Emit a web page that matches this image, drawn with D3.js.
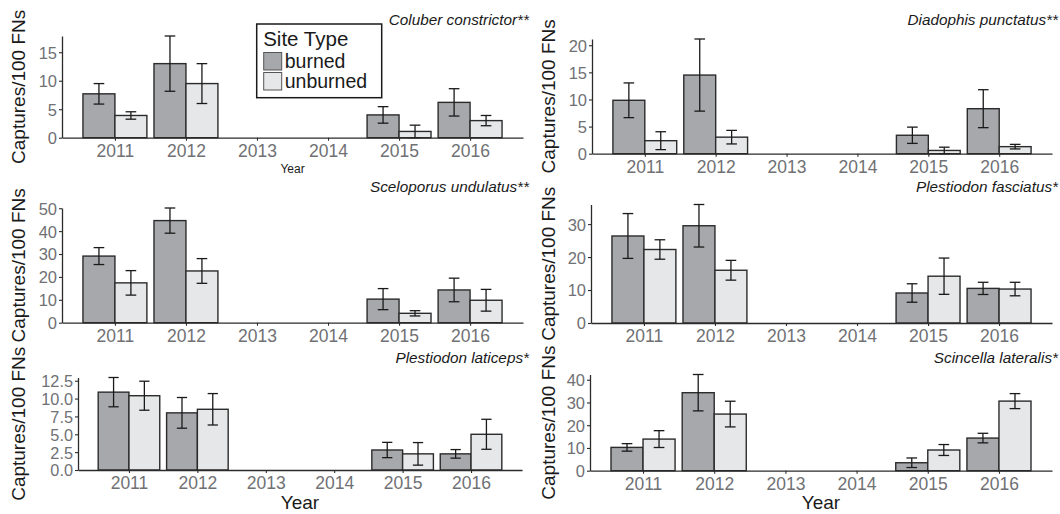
<!DOCTYPE html>
<html>
<head>
<meta charset="utf-8">
<script src="https://cdn.jsdelivr.net/npm/d3@7"></script>
<style>
  body { margin: 0; background: #fff; }
  svg text { font-family: "Liberation Sans", Arial, Helvetica, sans-serif; }
</style>
</head>
<body>
<svg id="chart" width="1060" height="514"></svg>
<script>
// data ======================================================
var axisYears = [2011, 2012, 2013, 2014, 2015, 2016];
var dataYears = [2011, 2012, 2015, 2016];
var siteTypes = ["burned", "unburned"];
var species   = ["Coluber constrictor**", "Diadophis punctatus**", "Sceloporus undulatus**",
                 "Plestiodon fasciatus*", "Plestiodon laticeps*", "Scincella lateralis*"];

// mean and standard error, per year in dataYears
var coluberBurned     = [7.7, 13.0, 4.0, 6.2];
var coluberBurnedSE   = [1.8, 4.85, 1.45, 2.4];
var coluberUnburned   = [3.9, 9.5, 1.1, 3.0];
var coluberUnburnedSE = [0.65, 3.5, 1.1, 0.9];

var diadophisBurned     = [9.85, 14.5, 3.4, 8.3];
var diadophisBurnedSE   = [3.2, 6.65, 1.5, 3.5];
var diadophisUnburned   = [2.4, 3.05, 0.6, 1.3];
var diadophisUnburnedSE = [1.65, 1.25, 0.6, 0.42];

var sceloporusBurned     = [29.1, 44.6, 10.3, 14.3];
var sceloporusBurnedSE   = [3.7, 5.5, 4.6, 5.15];
var sceloporusUnburned   = [17.4, 22.6, 4.1, 9.8];
var sceloporusUnburnedSE = [5.35, 5.4, 1.15, 4.75];

var fasciatusBurned     = [26.4, 29.5, 9.1, 10.5];
var fasciatusBurnedSE   = [6.8, 6.45, 2.8, 1.85];
var fasciatusUnburned   = [22.3, 16.0, 14.2, 10.3];
var fasciatusUnburnedSE = [2.95, 3.0, 5.5, 2.05];

var laticepsBurned     = [10.9, 8.0, 2.8, 2.26];
var laticepsBurnedSE   = [2.05, 2.15, 1.07, 0.6];
var laticepsUnburned   = [10.4, 8.5, 2.26, 5.0];
var laticepsUnburnedSE = [2.03, 2.2, 1.58, 2.1];

var scincellaBurned     = [10.25, 34.3, 3.5, 14.35];
var scincellaBurnedSE   = [1.65, 8.0, 2.1, 2.1];
var scincellaUnburned   = [13.9, 24.9, 9.1, 30.6];
var scincellaUnburnedSE = [3.7, 5.65, 2.4, 3.3];

// y tick labels per panel
var ticksColuber    = [0, 5, 10, 15];
var ticksDiadophis  = [0, 5, 10, 15, 20];
var ticksSceloporus = [0, 10, 20, 30, 40, 50];
var ticksFasciatus  = [0, 10, 20, 30];
var ticksLaticeps   = [0, 2.5, 5, 7.5, 10, 12.5];
var ticksScincella  = [0, 10, 20, 30, 40];

var series = [
  [coluberBurned, coluberBurnedSE, coluberUnburned, coluberUnburnedSE, ticksColuber, d3.format("d")],
  [diadophisBurned, diadophisBurnedSE, diadophisUnburned, diadophisUnburnedSE, ticksDiadophis, d3.format("d")],
  [sceloporusBurned, sceloporusBurnedSE, sceloporusUnburned, sceloporusUnburnedSE, ticksSceloporus, d3.format("d")],
  [fasciatusBurned, fasciatusBurnedSE, fasciatusUnburned, fasciatusUnburnedSE, ticksFasciatus, d3.format("d")],
  [laticepsBurned, laticepsBurnedSE, laticepsUnburned, laticepsUnburnedSE, ticksLaticeps, d3.format(".1f")],
  [scincellaBurned, scincellaBurnedSE, scincellaUnburned, scincellaUnburnedSE, ticksScincella, d3.format("d")]
];

// layout ====================================================
// plot rectangles: left, right, top, bottom ; title pos ; x-title type
var panels = [
  {l: 62, r: 523,  t: 36,  b: 137.7, titleX: 529,  titleY: 25,  ytx: 25,  xTitle: "small"},
  {l: 592, r: 1052, t: 39, b: 153.7, titleX: 1058, titleY: 25,  ytx: 555, xTitle: ""},
  {l: 62, r: 523,  t: 208, b: 322.7, titleX: 529,  titleY: 192, ytx: 25,  xTitle: ""},
  {l: 591, r: 1052, t: 204.5, b: 323, titleX: 1058, titleY: 192, ytx: 555, xTitle: ""},
  {l: 78, r: 522,  t: 377.5, b: 470, titleX: 529,  titleY: 363, ytx: 25,  xTitle: "big"},
  {l: 590, r: 1052, t: 374.5, b: 470.7, titleX: 1058, titleY: 363, ytx: 555, xTitle: "big"}
];

var fillColor  = {burned: "#a7a8ab", unburned: "#e6e7e8"};
var strokeCol  = "#2b2b2b";
var tickCol    = "#707174";
var dodge      = 0.9;   // dodge width in year units
var capHalf    = 0.075; // half width of error bar caps

var svg = d3.select("#chart");

panels.forEach(function(p, i) {
  var s = series[i];
  var g = svg.append("g");

  // x: continuous years with ggplot-like 5% expansion
  var xmin = d3.min(axisYears) - dodge/2, xmax = d3.max(axisYears) + dodge/2;
  var pad  = (xmax - xmin) * 0.05;
  var xScale = d3.scaleLinear().domain([xmin - pad, xmax + pad]).range([p.l, p.r]);

  var bars = [];
  dataYears.forEach(function(yr, j) {
    bars.push({year: yr, type: "burned",   mean: s[0][j], se: s[1][j]});
    bars.push({year: yr, type: "unburned", mean: s[2][j], se: s[3][j]});
  });
  var ymax = d3.max(bars, function(d) { return d.mean + d.se; });
  var yScale = d3.scaleLinear().domain([0, ymax]).range([p.b, p.t]);

  function barX(d) { return d.type == "burned" ? d.year - dodge/2 : d.year; }

  // bars
  g.selectAll("rect.bar").data(bars).enter().append("rect")
    .attr("x", function(d) { return xScale(barX(d)); })
    .attr("y", function(d) { return yScale(d.mean); })
    .attr("width", function(d) { return xScale(barX(d) + dodge/2) - xScale(barX(d)); })
    .attr("height", function(d) { return yScale(0) - yScale(d.mean); })
    .style("fill", function(d) { return fillColor[d.type]; })
    .style("stroke", strokeCol).style("stroke-width", 1.4);

  // error bars
  var eb = g.selectAll("g.err").data(bars).enter().append("g")
    .style("stroke", "#1a1a1a").style("stroke-width", 1.3).style("fill", "none");
  function cx(d) { return barX(d) + dodge/4; }
  eb.append("line")
    .attr("x1", function(d) { return xScale(cx(d)); }).attr("x2", function(d) { return xScale(cx(d)); })
    .attr("y1", function(d) { return yScale(Math.max(0, d.mean - d.se)); })
    .attr("y2", function(d) { return yScale(d.mean + d.se); });
  eb.append("line")
    .attr("x1", function(d) { return xScale(cx(d) - capHalf); }).attr("x2", function(d) { return xScale(cx(d) + capHalf); })
    .attr("y1", function(d) { return yScale(d.mean + d.se); }).attr("y2", function(d) { return yScale(d.mean + d.se); });
  eb.append("line")
    .attr("x1", function(d) { return xScale(cx(d) - capHalf); }).attr("x2", function(d) { return xScale(cx(d) + capHalf); })
    .attr("y1", function(d) { return yScale(Math.max(0, d.mean - d.se)); })
    .attr("y2", function(d) { return yScale(Math.max(0, d.mean - d.se)); });

  // axes
  var xAxis = g.append("g").attr("transform", "translate(0," + p.b + ")")
    .call(d3.axisBottom(xScale).tickValues(axisYears).tickFormat(d3.format("d")).tickSizeInner(3).tickSizeOuter(0).tickPadding(4));
  var yAxis = g.append("g").attr("transform", "translate(" + p.l + ",0)")
    .call(d3.axisLeft(yScale).tickValues(s[4]).tickFormat(s[5]).tickSizeInner(3).tickSizeOuter(0).tickPadding(2));
  [xAxis, yAxis].forEach(function(a) {
    a.select(".domain").style("stroke", strokeCol).style("stroke-width", 1.3);
    a.selectAll(".tick line").style("stroke", strokeCol).style("stroke-width", 1.1);
    a.selectAll(".tick text").style("fill", tickCol)
      .style("font-family", "'Liberation Sans', Arial, sans-serif");
  });
  xAxis.selectAll(".tick text").style("font-size", "17.5px");
  yAxis.selectAll(".tick text").style("font-size", i == 4 ? "16.3px" : "16.5px").attr("dy", "0.36em");

  // y title
  g.append("text")
    .attr("transform", "translate(" + p.ytx + "," + ((p.t + p.b)/2) + ") rotate(-90)")
    .style("text-anchor", "middle").style("font-size", "19px").style("fill", "#1a1a1a")
    .text("Captures/100 FNs");

  // species title
  g.append("text").attr("x", p.titleX).attr("y", p.titleY)
    .style("text-anchor", "end").style("font-size", "15.3px").style("font-style", "italic")
    .style("fill", "#1a1a1a").text(species[i]);

  // x title
  var xc = (p.l + p.r)/2;
  if (p.xTitle == "small") {
    g.append("text").attr("x", xc).attr("y", 173).style("text-anchor", "middle")
      .style("font-size", "12px").style("fill", "#1a1a1a").text("Year");
  }
  else if (p.xTitle == "big") {
    g.append("text").attr("x", xc).attr("y", 509).style("text-anchor", "middle")
      .style("font-size", "19px").style("fill", "#1a1a1a").text("Year");
  }
});

// legend (inside first panel) ==============================
var leg = svg.append("g").attr("transform", "translate(256.7,24)");
leg.append("rect").attr("x", 0).attr("y", 0).attr("width", 125).attr("height", 73.7)
   .style("fill", "#fff").style("stroke", "#1a1a1a").style("stroke-width", 1.5);
leg.append("text").attr("x", 6.5).attr("y", 21.5).style("font-size", "20.5px").style("fill", "#1a1a1a")
   .text("Site Type");
siteTypes.forEach(function(t, k) {
  leg.append("rect").attr("x", 7).attr("y", 28.5 + k*20).attr("width", 18).attr("height", 17.5)
     .style("fill", fillColor[t]).style("stroke", "#555").style("stroke-width", 1);
  leg.append("text").attr("x", 28).attr("y", 44 + k*20).style("font-size", "19.5px").style("fill", "#1a1a1a")
     .text(t);
});
</script>
</body>
</html>
